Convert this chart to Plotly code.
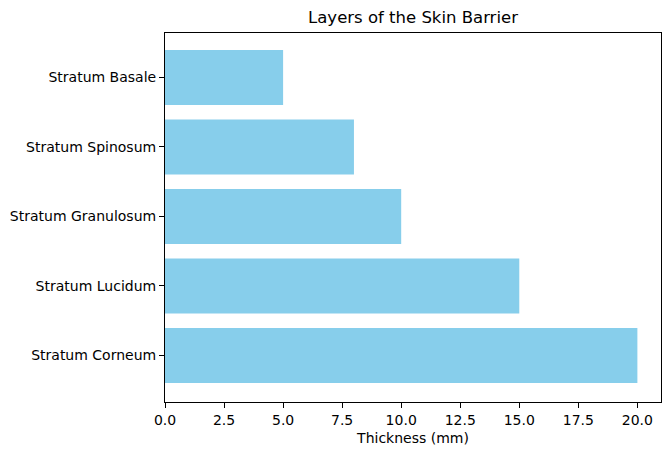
import plotly.graph_objects as go

layers = ["Stratum Corneum", "Stratum Lucidum", "Stratum Granulosum", "Stratum Spinosum", "Stratum Basale"]
thickness = [20, 15, 10, 8, 5]
x_ticks = [0, 2.5, 5, 7.5, 10, 12.5, 15, 17.5, 20]
x_tick_labels = ["0.0", "2.5", "5.0", "7.5", "10.0", "12.5", "15.0", "17.5", "20.0"]

fig = go.Figure(go.Bar(
    x=thickness, y=layers, orientation="h",
    marker=dict(color="#87CEEB", line=dict(width=0)),
    width=0.79,
))

axis_common = dict(
    showline=True, linecolor="black", linewidth=1, mirror=True,
    ticks="outside", ticklen=5, tickcolor="black", tickwidth=1,
    showgrid=False, zeroline=False, automargin=False,
    tickfont=dict(family="DejaVu Sans", size=14, color="black"),
)

L, R, T, B = 165, 9, 33, 53
fig.update_layout(
    width=670, height=455,
    margin=dict(l=L, r=R, t=T, b=B),
    paper_bgcolor="white", plot_bgcolor="white",
    font=dict(family="DejaVu Sans", color="black"),
    title=dict(text="Layers of the Skin Barrier", x=(L + 670 - R) / 2 / 670, xanchor="center",
               y=1 - 17 / 455, yanchor="middle", font=dict(size=16.5, family="DejaVu Sans", color="black")),
    xaxis=dict(range=[0, 21], tickvals=x_ticks, ticktext=x_tick_labels,
               title=dict(text="Thickness (mm)", font=dict(size=14), standoff=6), **axis_common),
    yaxis=dict(range=[-0.67, 4.64], categoryorder="array", categoryarray=layers, **axis_common),
    showlegend=False,
)

fig.write_html("out.html", config={"displayModeBar": False},
               post_script="document.body.style.margin='0';")
